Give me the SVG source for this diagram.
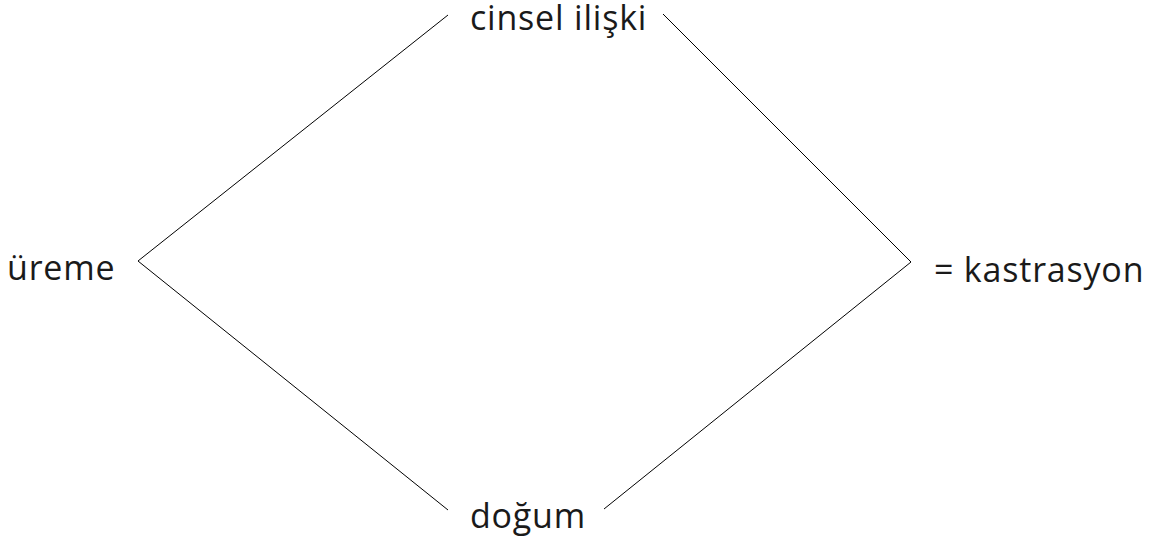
<svg xmlns="http://www.w3.org/2000/svg" width="1155" height="545" viewBox="0 0 1155 545">
<style>
text{font-family:"Open Sans","Noto Sans",sans-serif;font-size:34px;letter-spacing:0.8px;fill:#1a1a1a}
.c line{stroke:#000;stroke-width:1;fill:none}
</style>
<rect width="1155" height="545" fill="#fff"/>
<g class="c" id="connectors">
<line x1="138" y1="261" x2="448" y2="15"/>
<line x1="138" y1="261" x2="448" y2="510"/>
<line x1="663" y1="14" x2="911" y2="262"/>
<line x1="911" y1="262" x2="604" y2="509"/>
</g>
<g id="n-ureme"><text x="7" y="280">üreme</text></g>
<g id="n-cinsel"><text x="470" y="30">cinsel ilişki</text></g>
<g id="n-dogum"><text x="470" y="528">doğum</text></g>
<g id="n-kastrasyon"><text x="934" y="282">= kastrasyon</text></g>
</svg>
